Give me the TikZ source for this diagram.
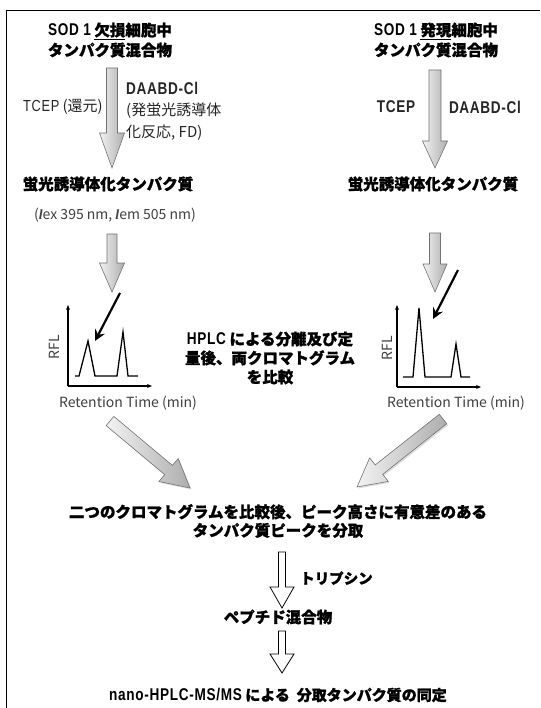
\documentclass[tikz,border=0pt]{standalone}
\usepackage{fontspec}
\setmainfont{Noto Sans CJK JP}[BoldFeatures={FakeBold=1.2}]
\newfontfamily\cond{Liberation Sans}[FakeStretch=0.8,LetterSpace=4]
\newfontfamily\lserif{Liberation Serif}
\newcommand\lat[1]{{\cond\bfseries\fontsize{17}{20}\selectfont #1}}
\usetikzlibrary{calc,arrows.meta,shadows}

% #1 style, #2 tail coordinate, #3 tip coordinate, #4 shaft half width, #5 head half width, #6 head length
\newcommand\blockarrow[6]{%
  \coordinate (tmpH) at ($(#3)!#6!(#2)$);
  \path[#1] ($(#2)!#4!90:(#3)$) -- ($(tmpH)!#4!90:(#3)$) -- ($(tmpH)!#5!90:(#3)$) -- (#3)
    -- ($(tmpH)!#5!-90:(#3)$) -- ($(tmpH)!#4!-90:(#3)$) -- ($(#2)!#4!-90:(#3)$) -- cycle;
}

\begin{document}
\begin{tikzpicture}[x=1pt,y=-1pt,
  jb/.style={font=\fontsize{15.5}{20}\selectfont\bfseries, align=center, inner sep=0pt},
  rg/.style={font=\fontsize{15}{21.5}\selectfont, text=black!85, inner sep=0pt},
  rt/.style={font=\fontsize{14}{16}\selectfont, text=black!75, inner sep=0pt},
  grayarrow/.style={draw=black!55, line width=0.6pt, left color=black!5, right color=black!32},
  diagarrow/.style={grayarrow, drop shadow={opacity=0.25, shadow xshift=1.5pt, shadow yshift=-1.5pt}},
  whitearrow/.style={draw=black, line width=0.8pt, fill=white},
  blackarrow/.style={line width=2.2pt, -{Stealth[length=11pt,width=11pt,inset=4pt]}},
  axisline/.style={line width=1.2pt, -{Stealth[length=5pt,width=4pt]}},
  peakline/.style={line width=1.3pt, line join=miter},
]
\useasboundingbox (0,0) rectangle (540,708);
\fill[white] (0,0) rectangle (540,708);

% frame (left and top edges visible)
\draw[line width=1.4pt] (6.5,708) -- (6.5,10.5) -- (540,10.5);

% ---------- titles ----------
\node[jb] (titleL) at (110,40) {\lat{SOD 1} \underline{欠損}細胞中\\タンパク質混合物};
\node[jb] (titleR) at (436,40) {\lat{SOD 1} \underline{発現}細胞中\\タンパク質混合物};

% ---------- first vertical arrows ----------
\coordinate (a1Ls) at (112,68);  \coordinate (a1Lt) at (112,168);
\coordinate (a1Rs) at (435,70);  \coordinate (a1Rt) at (435,168);
\blockarrow{grayarrow}{a1Ls}{a1Lt}{5.5pt}{12.5pt}{35pt}
\blockarrow{grayarrow}{a1Rs}{a1Rt}{6pt}{12.5pt}{27pt}

\node[rg, anchor=east] (tcepL) at (103,107) {{\cond\fontsize{16}{20}\selectfont TCEP} (還元)};
\node[rg, anchor=west, align=left] (daabdL) at (126,111) {\lat{DAABD-Cl}\\(発蛍光誘導体\\化反応, FD)};
\node[rg] (tcepR) at (396,107) {\lat{TCEP}};
\node[rg] (daabdR) at (485,107) {\lat{DAABD-Cl}};

% ---------- fluorescent derivatised proteins ----------
\node[jb] (fdL) at (108,184) {蛍光誘導体化タンパク質};
\node[jb] (fdR) at (433,184) {蛍光誘導体化タンパク質};
\node[rt, font=\fontsize{14}{16}\selectfont] (lam) at (115,215) {({\lserif\bfseries\itshape l}ex 395 nm, {\lserif\bfseries\itshape l}em 505 nm)};

% ---------- second vertical arrows ----------
\coordinate (a2Ls) at (112,234); \coordinate (a2Lt) at (112,292);
\coordinate (a2Rs) at (435,233); \coordinate (a2Rt) at (435,292);
\blockarrow{grayarrow}{a2Ls}{a2Lt}{5pt}{12.5pt}{29pt}
\blockarrow{grayarrow}{a2Rs}{a2Rt}{5.5pt}{12pt}{28pt}

% ---------- black pointer arrows ----------
\coordinate (bLs) at (120,293); \coordinate (bLt) at (95,341);
\coordinate (bRs) at (458,270); \coordinate (bRt) at (433,319);
\draw[blackarrow] (bLs) -- (bLt);
\draw[blackarrow] (bRs) -- (bRt);

% ---------- chromatogram left ----------
\coordinate (oL) at (68,386);
\draw[axisline] (oL) -- (152,386);
\draw[axisline] (oL) -- (68,305);
\draw[peakline] (75,376) -- (79,376) -- (88,341) -- (95,376) -- (117,376) -- (123,332) -- (128,376) -- (138,376);
\node[rt, rotate=90] (rflL) at (54,347) {RFL};
\node[rt] (rtL) at (128,403) {Retention Time (min)};

% ---------- chromatogram right ----------
\coordinate (oR) at (397,387);
\draw[axisline] (oR) -- (481,387);
\draw[axisline] (oR) -- (397,305);
\draw[peakline] (403,377) -- (413,377) -- (419,308) -- (425,377) -- (451,377) -- (456,344) -- (461,377) -- (470,377);
\node[rt, rotate=90] (rflR) at (387,348) {RFL};
\node[rt] (rtR) at (456,403) {Retention Time (min)};

% ---------- middle text ----------
\node[jb, font=\fontsize{15.5}{19}\selectfont\bfseries] (mid) at (270,358) {\lat{HPLC} による分離及び定\\量後、両クロマトグラム\\を比較};

% ---------- diagonal arrows ----------
\coordinate (dLs) at (110,421); \coordinate (dLt) at (190,488);
\coordinate (dRs) at (443,419); \coordinate (dRt) at (357,487);
\blockarrow{diagarrow}{dLs}{dLt}{6pt}{15pt}{28pt}
\blockarrow{diagarrow}{dRs}{dRt}{6pt}{15pt}{28pt}

% ---------- comparison ----------
\node[jb, font=\fontsize{15.5}{18.5}\selectfont\bfseries] (cmp) at (278,521) {二つのクロマトグラムを比較後、ピーク高さに有意差のある\\タンパク質ピークを分取};

% ---------- trypsin ----------
\coordinate (w1s) at (282,552); \coordinate (w1t) at (282,608);
\blockarrow{whitearrow}{w1s}{w1t}{3.5pt}{12pt}{21pt}
\node[jb, anchor=west, font=\fontsize{14.5}{18}\selectfont\bfseries] (tryp) at (300,578) {トリプシン};

\node[jb] (pep) at (278,617) {ペプチド混合物};

\coordinate (w2s) at (282,631); \coordinate (w2t) at (282,673);
\blockarrow{whitearrow}{w2s}{w2t}{3.5pt}{12pt}{19pt}

\node[jb, font=\fontsize{15}{18}\selectfont\bfseries] (last) at (278,695) {\lat{nano-HPLC-MS/MS} による\ \ 分取タンパク質の同定};
\end{tikzpicture}
\end{document}
